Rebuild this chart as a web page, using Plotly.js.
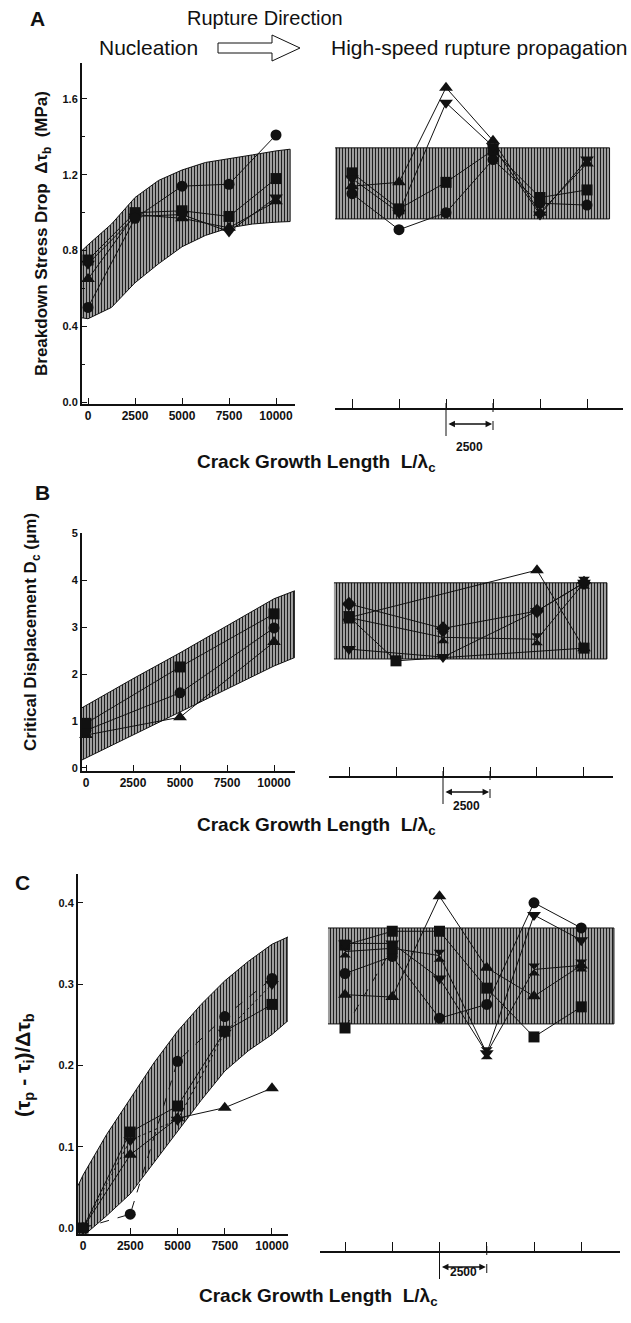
<!DOCTYPE html>
<html><head><meta charset="utf-8">
<script src="https://cdn.plot.ly/plotly-3.0.1.min.js"></script>
<style>html,body{margin:0;padding:0;background:#fff}#chart{width:631px;height:1323px}</style>
</head><body><div id="chart"></div>
<script>
// ================= DATA =================
const tickValsLeft = [0, 2500, 5000, 7500, 10000];
const tickValsRight = [0, 2500, 5000, 7500, 10000, 12500];
const nucX = [0, 2500, 5000, 7500, 10000];
const propX = [0, 2500, 5000, 7500, 10000, 12500];

// Panel A: breakdown stress drop (MPa)
const aBandX = [-320, 0, 1250, 2500, 3750, 5000, 6250, 7500, 8750, 10000, 10750];
const aBandUpper = [0.80, 0.83, 0.94, 1.08, 1.17, 1.225, 1.265, 1.287, 1.305, 1.326, 1.335];
const aBandLower = [0.445, 0.44, 0.50, 0.63, 0.73, 0.82, 0.88, 0.92, 0.94, 0.95, 0.953];
const aNucCircle = [0.50, 0.97, 1.14, 1.15, 1.41];
const aNucSquare = [0.75, 1.00, 1.01, 0.98, 1.18];
const aNucTriUp = [0.65, 0.99, 0.97, 0.92, 1.06];
const aNucTriDown = [0.73, 0.98, 0.99, 0.90, 1.08];
const aPropBandX = [-900, 13700];
const aPropBandY = [0.967, 1.342];
const aPropCircle = [1.10, 0.91, 1.00, 1.28, 1.05, 1.04];
const aPropSquare = [1.21, 1.02, 1.16, 1.33, 1.08, 1.12];
const aPropTriUp = [1.14, 1.16, 1.66, 1.38, 1.00, 1.26];
const aPropTriDown = [1.18, 1.00, 1.58, 1.35, 0.99, 1.28];

// Panel B: critical displacement Dc (um)
const bNucX = [0, 5000, 10000];
const bBandX = [-220, 0, 2500, 5000, 7500, 10000, 11100];
const bBandUpper = [1.28, 1.33, 1.90, 2.45, 3.03, 3.60, 3.77];
const bBandLower = [0.17, 0.22, 0.70, 1.19, 1.68, 2.17, 2.35];
const bNucSquare = [0.95, 2.15, 3.28];
const bNucCircle = [0.80, 1.60, 2.98];
const bNucTriUp = [0.70, 1.08, 2.68];
const bPropBandX = [-800, 13720];
const bPropBandY = [2.32, 3.94];
const bPropDiamond = [3.49, null, 2.97, null, 3.34, 3.94];
const bPropHourglass = [3.20, null, 2.78, null, 2.74, 3.94];
const bPropTriUp = [3.20, null, null, null, 4.21, 2.55];
const bPropTriDown = [2.53, null, 2.36, null, 3.34, 3.94];
const bPropSquare = [3.22, 2.28, null, null, null, 2.55];

// Panel C: (tau_p - tau_i)/delta tau_b
const cBandX = [-265, 0, 1250, 2500, 3750, 5000, 6250, 7500, 8750, 10000, 10850];
const cBandUpper = [0.052, 0.065, 0.115, 0.159, 0.203, 0.242, 0.275, 0.304, 0.328, 0.349, 0.358];
const cBandLower = [-0.03, -0.01, 0.015, 0.042, 0.08, 0.119, 0.157, 0.193, 0.218, 0.238, 0.255];
const cNucCircle = [0, 0.017, 0.205, 0.26, 0.307];
const cNucSquare = [0, 0.118, 0.15, 0.242, 0.275];
const cNucTriUp = [0, 0.09, 0.135, 0.148, 0.172];
const cNucTriDown = [0, 0.108, 0.133, 0.24, 0.30];
const cPropBandX = [-900, 14230];
const cPropBandY = [0.251, 0.369];
const cPropCircle = [0.313, 0.334, 0.258, 0.275, 0.40, 0.369];
const cPropSquare = [0.348, 0.365, 0.365, 0.295, 0.235, 0.272];
const cPropTriUp = [0.287, 0.284, 0.408, 0.32, 0.285, 0.323];
const cPropHourglass = [0.34, 0.344, 0.335, 0.215, 0.318, 0.323];
const cPropTriDown = [0.35, 0.35, 0.307, 0.215, 0.385, 0.354];
const cPropSquareB = [0.246, 0.344, null, null, null, null];

// ================= HELPERS =================
const W = 631, H = 1323;
const px = v => v / W;
const py = v => 1 - v / H;
const INK = '#111';
const FONT = 'Liberation Sans, Arial, sans-serif';

const pattern = {shape: '|', size: 3, solidity: 0.5, fgcolor: '#1e1e1e', bgcolor: '#c8c8c8', fillmode: 'replace'};

function band(xs, upper, lower, xa, ya) {
  return {type: 'scatter', mode: 'lines', xaxis: xa, yaxis: ya,
    x: xs.concat(xs.slice().reverse()), y: upper.concat(lower.slice().reverse()),
    fill: 'toself', fillcolor: '#c8c8c8', fillpattern: pattern,
    line: {color: INK, width: 1}, hoverinfo: 'skip'};
}
function rectBand(xr, yr, xa, ya) {
  return band([xr[0], xr[1]], [yr[1], yr[1]], [yr[0], yr[0]], xa, ya);
}
function series(x, y, xa, ya, symbol, dash) {
  const size = symbol.indexOf('triangle') === 0 || symbol === 'hourglass' ? 12 : 11;
  return {type: 'scatter', mode: 'lines+markers', x: x, y: y, xaxis: xa, yaxis: ya,
    connectgaps: true, cliponaxis: false, hoverinfo: 'skip',
    marker: {symbol: symbol, size: size, color: INK, line: {width: 0}},
    line: {color: INK, width: 1, dash: dash || 'solid'}};
}

const traces = [
  band(aBandX, aBandUpper, aBandLower, 'x', 'y'),
  series(nucX, aNucTriUp, 'x', 'y', 'triangle-up'),
  series(nucX, aNucTriDown, 'x', 'y', 'triangle-down'),
  series(nucX, aNucSquare, 'x', 'y', 'square'),
  series(nucX, aNucCircle, 'x', 'y', 'circle'),
  rectBand(aPropBandX, aPropBandY, 'x2', 'y'),
  series(propX, aPropCircle, 'x2', 'y', 'circle'),
  series(propX, aPropSquare, 'x2', 'y', 'square'),
  series(propX, aPropTriUp, 'x2', 'y', 'triangle-up'),
  series(propX, aPropTriDown, 'x2', 'y', 'triangle-down'),

  band(bBandX, bBandUpper, bBandLower, 'x3', 'y3'),
  series(bNucX, bNucTriUp, 'x3', 'y3', 'triangle-up'),
  series(bNucX, bNucCircle, 'x3', 'y3', 'circle'),
  series(bNucX, bNucSquare, 'x3', 'y3', 'square'),
  rectBand(bPropBandX, bPropBandY, 'x4', 'y3'),
  series(propX, bPropDiamond, 'x4', 'y3', 'diamond'),
  series(propX, bPropHourglass, 'x4', 'y3', 'hourglass'),
  series(propX, bPropTriUp, 'x4', 'y3', 'triangle-up'),
  series(propX, bPropTriDown, 'x4', 'y3', 'triangle-down'),
  series(propX, bPropSquare, 'x4', 'y3', 'square'),

  band(cBandX, cBandUpper, cBandLower, 'x5', 'y5'),
  series(nucX, cNucTriUp, 'x5', 'y5', 'triangle-up'),
  series(nucX, cNucTriDown, 'x5', 'y5', 'triangle-down', 'dot'),
  series(nucX, cNucSquare, 'x5', 'y5', 'square'),
  series(nucX, cNucCircle, 'x5', 'y5', 'circle', 'dash'),
  rectBand(cPropBandX, cPropBandY, 'x6', 'y5'),
  series(propX, cPropCircle, 'x6', 'y5', 'circle'),
  series(propX, cPropSquare, 'x6', 'y5', 'square'),
  series(propX, cPropTriUp, 'x6', 'y5', 'triangle-up'),
  series(propX, cPropHourglass, 'x6', 'y5', 'hourglass'),
  series(propX, cPropTriDown, 'x6', 'y5', 'triangle-down'),
  series(propX, cPropSquareB, 'x6', 'y5', 'square', 'dash')
];

const tickfont = {family: FONT, size: 12, color: INK, weight: 'bold'};
function leftX(dom, range, anchor) {
  return {domain: dom, range: range, anchor: anchor, tickvals: tickValsLeft, ticktext: tickValsLeft.map(String),
    ticks: 'inside', ticklen: 6, tickwidth: 1, tickcolor: INK, showline: true, linewidth: 2, linecolor: INK,
    showgrid: false, zeroline: false, tickfont: tickfont, fixedrange: true};
}
function rightX(dom, range, pos) {
  return {domain: dom, range: range, anchor: 'free', position: pos, tickvals: tickValsRight, showticklabels: false,
    ticks: 'inside', ticklen: 9, tickwidth: 1, tickcolor: INK, showline: true, linewidth: 2, linecolor: INK,
    showgrid: false, zeroline: false, fixedrange: true};
}
function leftY(dom, range, anchor, dtick, fmt, minor) {
  const a = {domain: dom, range: range, anchor: anchor, tick0: 0, dtick: dtick, tickformat: fmt,
    ticks: 'inside', ticklen: 5, tickwidth: 1, tickcolor: INK, showline: true, linewidth: 2, linecolor: INK,
    showgrid: false, zeroline: false, tickfont: {family: FONT, size: 11, color: INK, weight: 'bold'}, fixedrange: true};
  if (minor) a.minor = {ticks: 'inside', dtick: minor, ticklen: 3, tickcolor: INK, showgrid: false};
  return a;
}

const shapes = [
  // hollow header arrow
  {type: 'path', xref: 'paper', yref: 'paper', line: {color: INK, width: 1}, fillcolor: 'white',
   path: 'M' + px(218) + ',' + py(43) + ' L' + px(272) + ',' + py(43) + ' L' + px(272) + ',' + py(35) +
         ' L' + px(300) + ',' + py(48) + ' L' + px(272) + ',' + py(61) + ' L' + px(272) + ',' + py(53) +
         ' L' + px(218) + ',' + py(53) + ' Z'}
];
const annotations = [];
function scaleBar(xa, axisPx) {
  shapes.push({type: 'line', xref: xa, yref: 'paper', x0: 5000, x1: 5000, y0: py(axisPx - 6), y1: py(axisPx + 27), line: {color: INK, width: 1}});
  shapes.push({type: 'line', xref: xa, yref: 'paper', x0: 7500, x1: 7500, y0: py(axisPx - 6), y1: py(axisPx + 27), line: {color: INK, width: 1, dash: 'dash'}});
  annotations.push({xref: xa, yref: 'paper', x: 7450, y: py(axisPx + 15), axref: xa, ax: 5050, ayref: 'pixel', ay: 0,
    text: '', showarrow: true, arrowhead: 2, arrowside: 'end+start', arrowsize: 1, arrowwidth: 1.3, arrowcolor: INK, standoff: 0, startstandoff: 0});
  annotations.push({xref: xa, yref: 'paper', x: 6250, y: py(axisPx + 29), text: '<b>2500</b>', showarrow: false,
    font: {family: FONT, size: 12, color: INK}});
}
scaleBar('x2', 409);
scaleBar('x4', 777);
scaleBar('x6', 1252);

function txt(x, y, text, size, angle) {
  annotations.push({xref: 'paper', yref: 'paper', x: px(x), y: py(y), text: text, showarrow: false,
    xanchor: 'center', yanchor: 'middle', textangle: angle || 0, font: {family: FONT, size: size, color: INK}});
}
txt(37, 19, '<b>A</b>', 21);
txt(265, 18, 'Rupture Direction', 20);
txt(148, 48, 'Nucleation', 21);
txt(479, 48, 'High-speed rupture propagation', 21);
txt(316, 463, '<b>Crack Growth Length  L/λ<sub>c</sub></b>', 19);
txt(43, 234, '<b>Breakdown Stress Drop  Δτ<sub>b</sub>  (MPa)</b>', 17, -90);

txt(42, 492, '<b>B</b>', 21);
txt(32, 632, '<b>Critical Displacement D<sub>c</sub> (μm)</b>', 17, -90);
txt(316, 826, '<b>Crack Growth Length  L/λ<sub>c</sub></b>', 19);

txt(22, 882, '<b>C</b>', 21);
txt(24, 1065, '<b>(τ<sub>p</sub> - τ<sub>i</sub>)/Δτ<sub>b</sub></b>', 21, -90);
txt(318, 1297, '<b>Crack Growth Length  L/λ<sub>c</sub></b>', 19);

const layout = {
  width: W, height: H, margin: {l: 0, r: 0, t: 0, b: 0},
  paper_bgcolor: '#fff', plot_bgcolor: 'rgba(0,0,0,0)', showlegend: false,
  font: {family: FONT, color: INK},
  xaxis: leftX([px(82), px(295)], [-320, 11010], 'y'),
  yaxis: leftY([py(404), py(63)], [-0.01, 1.79], 'x', 0.4, '.1f', 0.2),
  xaxis2: rightX([px(335), px(623)], [-904, 14415], py(409)),
  xaxis3: leftX([px(82), px(295)], [-213, 11117], 'y3'),
  yaxis3: leftY([py(771), py(533)], [-0.064, 5.0], 'x3', 1, 'd'),
  xaxis4: rightX([px(329), px(613)], [-1064, 14043], py(777)),
  xaxis5: leftX([px(78), px(288)], [-265, 10847], 'y5'),
  yaxis5: leftY([py(1234), py(874)], [-0.0074, 0.4354], 'x5', 0.1, '.1f'),
  xaxis6: rightX([px(320), px(620)], [-1323, 14550], py(1252)),
  shapes: shapes, annotations: annotations
};

Plotly.newPlot('chart', traces, layout, {staticPlot: true, displayModeBar: false});
</script>
</body></html>
